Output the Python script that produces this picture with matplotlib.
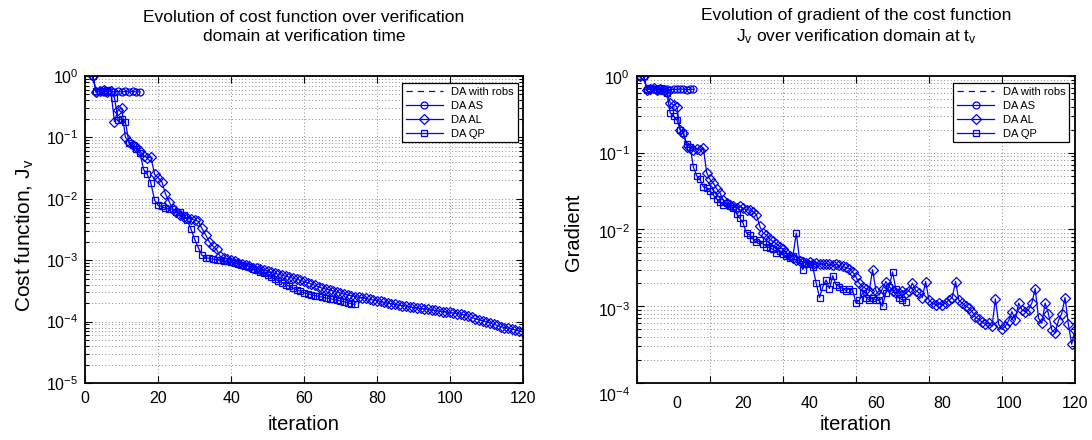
import numpy as np
import matplotlib
matplotlib.use("Agg")
import matplotlib.pyplot as plt
from matplotlib.ticker import LogLocator, NullFormatter, FixedLocator

plt.rcParams['font.family'] = ['Liberation Sans', 'DejaVu Sans']
plt.rcParams['mathtext.fontset'] = 'custom'
plt.rcParams['mathtext.rm'] = 'Liberation Sans'
plt.rcParams['mathtext.it'] = 'Liberation Sans:italic'
plt.rcParams['mathtext.bf'] = 'Liberation Sans:bold'

# ---------------- data: left panel (cost function J_v) ----------------
left_as_start = 2
left_as = [1.0, 0.55, 0.56, 0.55, 0.57, 0.56, 0.55, 0.56, 0.55, 0.56, 0.55, 0.56, 0.55, 0.55]

left_al_start = 2
left_al = [
    1.0, 0.55, 0.57, 0.6, 0.55, 0.58, 0.18, 0.28, 0.3, 0.1,
    0.085, 0.075, 0.07, 0.06, 0.05, 0.047, 0.048, 0.025, 0.022, 0.019,
    0.012, 0.009, 0.0068, 0.006, 0.0055, 0.005, 0.0048, 0.0047, 0.0045, 0.0043,
    0.0033, 0.0026, 0.002, 0.0017, 0.0015, 0.00115, 0.0011, 0.00105, 0.001, 0.00096,
    0.00091, 0.00087, 0.00083, 0.00079, 7.6e-4, 7.4e-4, 7.1e-4, 6.9e-4, 6.6e-4, 6.4e-4,
    6.1e-4, 5.9e-4, 5.7e-4, 5.5e-4, 5.3e-4, 5.1e-4, 4.9e-4, 4.7e-4, 4.5e-4, 4.3e-4,
    4.1e-4, 3.9e-4, 3.7e-4, 3.5e-4, 3.4e-4, 3.3e-4, 3.15e-4, 3.0e-4, 2.9e-4, 2.8e-4,
    2.7e-4, 2.65e-4, 2.55e-4, 2.5e-4, 2.45e-4, 2.38e-4, 2.3e-4, 2.25e-4, 2.2e-4, 2.13e-4,
    2.07e-4, 2.0e-4, 1.95e-4, 1.9e-4, 1.86e-4, 1.82e-4, 1.78e-4, 1.74e-4, 1.7e-4, 1.67e-4,
    1.64e-4, 1.61e-4, 1.58e-4, 1.55e-4, 1.52e-4, 1.49e-4, 1.46e-4, 1.44e-4, 1.41e-4, 1.38e-4,
    1.35e-4, 1.32e-4, 1.29e-4, 1.22e-4, 1.17e-4, 1.12e-4, 1.07e-4, 1.03e-4, 1.0e-4, 9.5e-5,
    9.1e-5, 8.7e-5, 8.3e-5, 8.0e-5, 7.8e-5, 7.6e-5, 7.3e-5, 7.0e-5, 6.8e-5,
]

left_qp_start = 2
left_qp = [
    1.0, 0.56, 0.58, 0.55, 0.6, 0.55, 0.44, 0.19, 0.2, 0.18,
    0.08, 0.075, 0.065, 0.055, 0.03, 0.025, 0.018, 0.0095, 0.0078, 0.0075,
    0.007, 0.0068, 0.0068, 0.0062, 0.006, 0.0055, 0.0045, 0.0032, 0.0022, 0.0016,
    0.0012, 0.0011, 0.00107, 0.00104, 0.00102, 0.001, 0.00098, 0.00096, 0.00093, 0.0009,
    0.00087, 0.00084, 0.00081, 0.00078, 0.00073, 0.00069, 0.00065, 0.00061, 0.00057, 0.00053,
    0.00049, 0.00046, 0.00043, 0.0004, 0.000375, 0.00035, 0.00033, 0.00031, 0.000295, 0.000285,
    0.000275, 0.000265, 0.000258, 0.00025, 0.000243, 0.000237, 0.00023, 0.000224, 0.000218, 0.00021,
    0.000203, 0.000196, 0.00019,
]

# ---------------- data: right panel (gradient) ----------------
right_as_start = -11
right_as = [1.0, 1.0, 0.67, 0.68, 0.67, 0.66, 0.67, 0.68, 0.67, 0.66, 0.67, 0.67, 0.68, 0.67, 0.66, 0.67, 0.67]

right_al_start = -11
right_al = [
    1.0, 1.0, 0.66, 0.68, 0.7, 0.66, 0.68, 0.65, 0.62, 0.45,
    0.42, 0.4, 0.2, 0.18, 0.12, 0.115, 0.11, 0.113, 0.11, 0.115,
    0.055, 0.045, 0.04, 0.034, 0.03, 0.024, 0.022, 0.021, 0.02, 0.019,
    0.02, 0.019, 0.018, 0.018, 0.017, 0.0155, 0.011, 0.009, 0.0085, 0.0075,
    0.007, 0.0065, 0.006, 0.0055, 0.005, 0.0045, 0.0042, 0.004, 0.0039, 0.0038,
    0.0037, 0.0038, 0.0036, 0.0037, 0.0036, 0.0035, 0.0036, 0.0035, 0.0034, 0.0035,
    0.0034, 0.0033, 0.0032, 0.0031, 0.0028, 0.0024, 0.002, 0.0018, 0.0017, 0.0016,
    0.003, 0.0016, 0.0014, 0.0017, 0.0021, 0.0018, 0.0016, 0.0015, 0.0015, 0.0016,
    0.0015, 0.0016, 0.002, 0.0016, 0.0015, 0.0013, 0.0021, 0.0012, 0.0011, 0.00105,
    0.0011, 0.00105, 0.0011, 0.0012, 0.0013, 0.0021, 0.0012, 0.0011, 0.001, 0.00095,
    0.00085, 0.00072, 0.00068, 0.00062, 0.00058, 0.0006, 0.00055, 0.00125, 0.00058, 0.0005,
    0.00055, 0.00065, 0.00085, 0.00066, 0.0011, 0.0009, 0.00085, 0.0009, 0.0011, 0.0017,
    0.0007, 0.0006, 0.0011, 0.0008, 0.00049, 0.00045, 0.00065, 0.0008, 0.0013, 0.00058,
    0.00032, 0.00049,
]

right_qp_start = -11
right_qp = [
    1.0, 1.0, 0.66, 0.7, 0.68, 0.66, 0.7, 0.64, 0.6, 0.33,
    0.3, 0.27, 0.2, 0.18, 0.13, 0.12, 0.065, 0.05, 0.045, 0.036,
    0.035, 0.032, 0.028, 0.025, 0.023, 0.021, 0.022, 0.02, 0.019, 0.016,
    0.014, 0.012, 0.009, 0.0085, 0.0075, 0.0068, 0.0072, 0.0065, 0.006, 0.0058,
    0.0055, 0.005, 0.0052, 0.0048, 0.0045, 0.0042, 0.0045, 0.009, 0.004, 0.003,
    0.0037, 0.0036, 0.0032, 0.002, 0.0013, 0.0018, 0.0022, 0.0017, 0.0025, 0.0019,
    0.0018, 0.0017, 0.0016, 0.0017, 0.0016, 0.0011, 0.0012, 0.0015, 0.0013, 0.0012,
    0.0013, 0.0012, 0.0012, 0.001, 0.0015, 0.0018, 0.0028, 0.0017, 0.0013, 0.0012,
    0.00115,
]

x_tick_labels = [0, 20, 40, 60, 80, 100, 120]
right_y_exponents = [0, -1, -2, -3, -4]
legend_labels = ['DA with robs', 'DA AS', 'DA AL', 'DA QP']

# ---------------- figure ----------------
W, H = 1092, 440
fig = plt.figure(figsize=(W / 100, H / 100), dpi=100)

def px_axes(x0, x1, ytop, ybot):
    return [x0 / W, 1 - ybot / H, (x1 - x0) / W, (ybot - ytop) / H]

axL = fig.add_axes(px_axes(85.3, 522.7, 76, 383))
axR = fig.add_axes(px_axes(637, 1075, 76, 383))

BLUE = (0, 0, 1)
line_kw = dict(color=BLUE, lw=0.9, markerfacecolor='none', markeredgecolor=BLUE, markeredgewidth=0.9)
grid_kw = dict(color='0.4', linestyle=(0, (1, 3)), linewidth=0.6)


def draw_series(ax, as_s, as_v, al_s, al_v, qp_s, qp_v):
    ax.plot([], [], ls=(0, (5, 4)), color=BLUE, lw=0.9, label=legend_labels[0])
    ax.plot(np.arange(as_s, as_s + len(as_v)), as_v, marker='o', ms=5.0, label=legend_labels[1], **line_kw)
    ax.plot(np.arange(al_s, al_s + len(al_v)), al_v, marker='D', ms=4.6, label=legend_labels[2], **line_kw)
    ax.plot(np.arange(qp_s, qp_s + len(qp_v)), qp_v, marker='s', ms=5.0, label=legend_labels[3], **line_kw)


def style_axes(ax):
    ax.set_yscale('log')
    ax.yaxis.set_minor_locator(LogLocator(base=10, subs=np.arange(2, 10), numticks=100))
    ax.yaxis.set_minor_formatter(NullFormatter())
    ax.tick_params(axis='both', which='both', direction='in', top=True, right=True,
                   labelsize=11.5, width=0.8)
    ax.tick_params(axis='both', which='major', length=5)
    ax.tick_params(axis='y', which='minor', length=3)
    ax.tick_params(axis='x', which='major', pad=6)
    ax.tick_params(axis='y', which='major', pad=5)
    for sp in ax.spines.values():
        sp.set_linewidth(1.3)
    ax.yaxis.grid(True, which='both', **grid_kw)


def add_legend(ax, right_inset_px, width_px):
    leg = ax.legend(loc='upper right', bbox_to_anchor=(1 - right_inset_px / width_px, 1 - 7 / 307),
                    borderaxespad=0, fontsize=8, fancybox=False, framealpha=1, edgecolor='black',
                    handlelength=3.3, handletextpad=0.8, labelspacing=0.35, borderpad=0.35)
    leg.get_frame().set_linewidth(0.9)


# left panel
draw_series(axL, left_as_start, left_as, left_al_start, left_al, left_qp_start, left_qp)
style_axes(axL)
axL.set_xlim(0, 120)
axL.set_ylim(1e-5, 1)
axL.set_xticks(x_tick_labels)
axL.xaxis.grid(True, which='major', **grid_kw)
add_legend(axL, 4.7, 437.4)
axL.set_xlabel('iteration', fontsize=14.5)
axL.xaxis.label.set_va('center')
axL.xaxis.set_label_coords(0.5, -(424 - 383) / 307)
axL.set_ylabel(r'Cost function, J$_\mathregular{v}$', fontsize=15)
axL.yaxis.label.set_va('center')
axL.yaxis.set_label_coords((25 - 85.3) / 437.4, 0.48)

# right panel
draw_series(axR, right_as_start, right_as, right_al_start, right_al, right_qp_start, right_qp)
style_axes(axR)
axR.set_xlim(-12, 120)
axR.set_ylim(1e-4, 1)
axR.set_xticks(x_tick_labels)
axR.tick_params(axis='x', which='major', length=0, pad=9)
axR.xaxis.set_minor_locator(FixedLocator([-12, 10, 32, 54, 76, 98, 120]))
axR.tick_params(axis='x', which='minor', length=5)
axR.xaxis.grid(True, which='minor', **grid_kw)
# y tick labels of the right panel sit slightly lower than their ticks in the original export
axR.yaxis.set_major_formatter(NullFormatter())
label_rows_px = [79, 155, 233, 311, 396]
for e, py in zip(right_y_exponents, label_rows_px):
    axR.text(-7 / 438, 1 - (py - 76) / 307, r'$\mathregular{10^{%d}}$' % e, transform=axR.transAxes,
             ha='right', va='center', fontsize=11.5, clip_on=False)
add_legend(axR, 5.7, 438)
axR.set_xlabel('iteration', fontsize=14.5)
axR.xaxis.label.set_va('center')
axR.xaxis.set_label_coords(0.5, -(424 - 383) / 307)
axR.set_ylabel('Gradient', fontsize=14.5)
axR.yaxis.label.set_va('center')
axR.yaxis.set_label_coords((574 - 637) / 438, 0.49)

# titles
fig.text((85.3 + 522.7) / 2 / W, 1 - 27 / H,
         'Evolution of cost function over verification\ndomain at verification time',
         ha='center', va='center', fontsize=12.5, linespacing=1.3)
fig.text((637 + 1075) / 2 / W, 1 - 27 / H,
         'Evolution of gradient of the cost function\n'
         r'J$_\mathregular{v}$ over verification domain at t$_\mathregular{v}$',
         ha='center', va='center', fontsize=12.5, linespacing=1.3)

fig.savefig('out.png', dpi=100)
